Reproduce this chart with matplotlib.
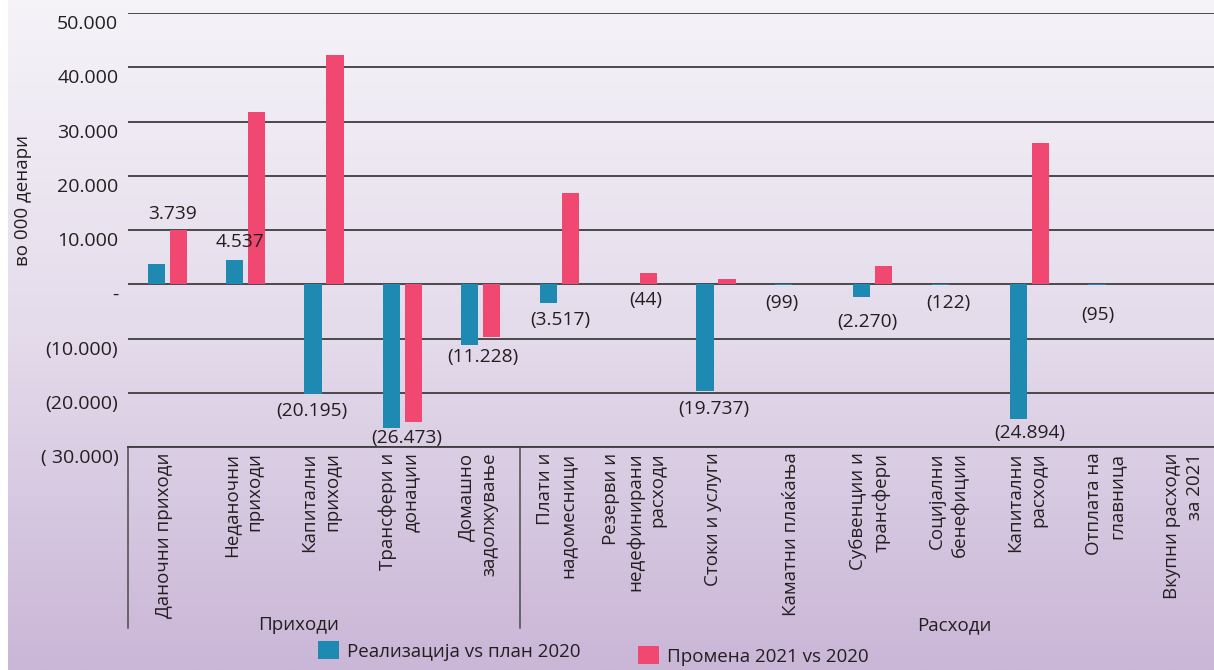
import matplotlib.pyplot as plt
import matplotlib.transforms as mtransforms
from matplotlib.colors import LinearSegmentedColormap
import numpy as np

plt.rcParams['font.family'] = ['Open Sans', 'DejaVu Sans']

# ------------------------------------------------------------
# Податоци (во 000 денари)
# ------------------------------------------------------------
categories = [
    'Даночни приходи', 'Неданочни\nприходи', 'Капитални\nприходи',
    'Трансфери и\nдонации', 'Домашно\nзадолжување',
    'Плати и\nнадомесници', 'Резерви и\nнедефинирани\nрасходи',
    'Стоки и услуги', 'Каматни плаќања', 'Субвенции и\nтрансфери',
    'Социјални\nбенефиции', 'Капитални\nрасходи', 'Отплата на\nглавница',
    'Вкупни расходи\nза 2021',
]
realizacija = [3739, 4537, -20195, -26473, -11228, -3517, -44, -19737,
               -99, -2270, -122, -24894, -95, 0]
promena = [10000, 31800, 42200, -25300, -9700, 16900, 2100, 1000,
           0, 3400, 0, 26100, 0, 0]

groups = ['Приходи', 'Расходи']
n_prihodi = 5

yticks = [-30000, -20000, -10000, 0, 10000, 20000, 30000, 40000, 50000]
ytick_labels = ['( 30.000)', '(20.000)', '(10.000)', '-', '10.000',
                '20.000', '30.000', '40.000', '50.000']

leg_labels = ['Реализација vs план 2020', 'Промена 2021 vs 2020']

# поместување на ознаките (пиксели) - рачно наместени како во оригиналот
lab_dx = [5, -6, -12, 4, 2, 1, 8, -2, -13, -5, -3, 0, -10, 0]
lab_dy = [50, 18, -17, -10, -12, -17, -16, -18, -18, -25, -18, -14, -30, 0]

BLUE = '#1f8ab1'
PINK = '#f04870'
GRID = '#3d3d3d'
TXT = '#231f20'


def fmt(v):
    s = f'{abs(v):,}'.replace(',', '.')
    return f'({s})' if v < 0 else s


# ------------------------------------------------------------
# Фигура и позадина
# ------------------------------------------------------------
fig = plt.figure(figsize=(12.14, 6.70), dpi=100)
fig.patch.set_facecolor('white')

bg = fig.add_axes([8 / 1214, 0, 1 - 8 / 1214, 1], zorder=-10)
cmap = LinearSegmentedColormap.from_list('bg', ['#f5f3f8', '#e4dbeb', '#cab6d7'])
grad = np.linspace(0, 1, 256).reshape(-1, 1)
bg.imshow(grad, aspect='auto', cmap=cmap, extent=[0, 1, 0, 1], origin='upper')
bg.axis('off')

ax = fig.add_axes([128 / 1214, 1 - 447 / 670, 1 - 128 / 1214, (447 - 13) / 670])
ax.set_facecolor('none')

x = np.arange(len(categories))
w = 0.22
b1 = ax.bar(x - 0.14, realizacija, w, color=BLUE, zorder=3)
b2 = ax.bar(x + 0.14, promena, w, color=PINK, zorder=3)

ax.set_xlim(-0.5, -0.5 + (1214 - 128) / 78.4)
ax.set_ylim(-30000, 50000)

ax.set_yticks(yticks)
ax.set_yticklabels(ytick_labels, fontsize=14, color=TXT)
ax.tick_params(axis='y', length=0, pad=7)
off_y = mtransforms.ScaledTranslation(0, -9 / 100, fig.dpi_scale_trans)
for lab in ax.get_yticklabels():
    lab.set_transform(lab.get_transform() + off_y)

ax.grid(axis='y', color=GRID, linewidth=1.3, zorder=1)
for s in ['left', 'right', 'top']:
    ax.spines[s].set_visible(False)
ax.spines['bottom'].set_color(GRID)
ax.spines['bottom'].set_linewidth(1.3)

ax.set_xticks(x)
ax.set_xticklabels(categories, rotation=90, va='top', ha='center',
                   multialignment='right', fontsize=13.5, color=TXT,
                   linespacing=1.35)
ax.tick_params(axis='x', length=0, pad=4)
off_x = mtransforms.ScaledTranslation(-3 / 100, 0, fig.dpi_scale_trans)
for lab in ax.get_xticklabels():
    lab.set_transform(lab.get_transform() + off_x)

ax.set_ylabel('во 000 денари', fontsize=13.5, color=TXT)
ax.yaxis.set_label_coords(-(128 - 32) / 1086, (447 - 201) / 434)

# рамка за групите
trans = mtransforms.blended_transform_factory(ax.transData, ax.transAxes)
for xs in [-0.5, n_prihodi - 0.5, len(categories) - 0.5]:
    ax.plot([xs, xs], [0, -0.417], transform=trans, color='#555555',
            linewidth=1.2, clip_on=False)
ax.text(1.67, -0.41, groups[0], transform=trans, ha='center', va='center',
        fontsize=13.5, color=TXT)
ax.text(10.04, -0.41, groups[1], transform=trans, ha='center', va='center',
        fontsize=13.5, color=TXT)

# вредности
for i, v in enumerate(realizacija):
    if v == 0:
        continue
    ax.annotate(fmt(v), (x[i], v), xytext=(lab_dx[i], lab_dy[i]),
                textcoords='offset pixels', ha='center', va='center',
                fontsize=13.8, color=TXT, zorder=4)

# легенда
for bars, lab, xa, ya in [(b1, leg_labels[0], 318, 651), (b2, leg_labels[1], 638, 656)]:
    fig.legend([bars], [lab], loc='center left',
               bbox_to_anchor=(xa / 1214, 1 - ya / 670), frameon=False,
               fontsize=13.5, handlelength=1.1, handleheight=1.1,
               handletextpad=0.45, borderpad=0, borderaxespad=0,
               labelcolor=TXT)

fig.savefig('out.png', dpi=100)
